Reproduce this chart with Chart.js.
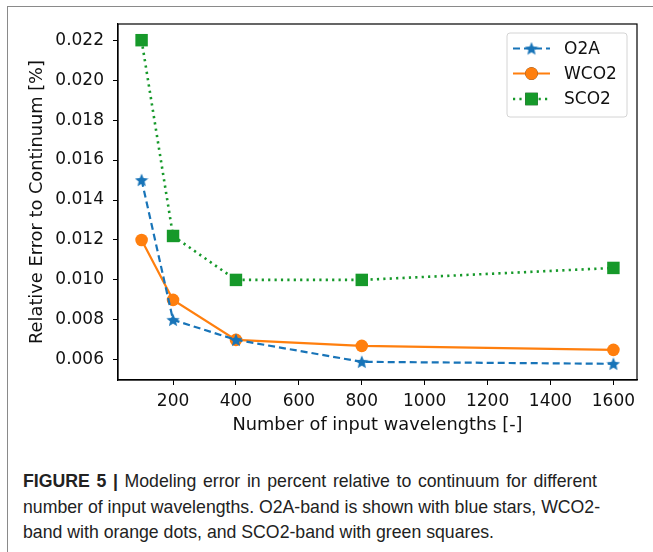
<!DOCTYPE html>
<html>
<head>
<meta charset="utf-8">
<script src="https://cdn.jsdelivr.net/npm/chart.js@4.4.1/dist/chart.umd.min.js"></script>
<style>
  html, body { margin: 0; padding: 0; background: #fff; }
  body { width: 653px; height: 552px; position: relative; overflow: hidden; }
  #frame { position: absolute; left: 7px; top: 6px; width: 700px; height: 600px;
           border-top: 1.5px solid #8a8a8a; border-left: 1.5px solid #8a8a8a; }
  #chart { position: absolute; left: 0; top: 0; }
  #caption { position: absolute; left: 23px; top: 469px; width: 574px;
             font-family: 'Liberation Sans Narrow', 'Liberation Sans', sans-serif;
             font-size: 17.7px; line-height: 25.5px; color: #222; }
  #caption div { white-space: nowrap; text-align: justify; text-align-last: justify; }
  #caption div.last { text-align: left; text-align-last: left; }
  #caption b { font-weight: bold; }
</style>
</head>
<body>
<div id="frame"></div>
<canvas id="chart" width="653" height="450"></canvas>
<div id="caption">
  <div><b>FIGURE 5 |</b> Modeling error in percent relative to continuum for different</div>
  <div>number of input wavelengths. O2A-band is shown with blue stars, WCO2-</div>
  <div class="last">band with orange dots, and SCO2-band with green squares.</div>
</div>
<script>
const wavelengths = [100, 200, 400, 800, 1600];
const o2a = [0.0150, 0.0080, 0.0070, 0.0059, 0.0058];
const wco2 = [0.0120, 0.0090, 0.0070, 0.0067, 0.0065];
const sco2 = [0.0220, 0.0122, 0.0100, 0.0100, 0.0106];
const seriesNames = ['O2A', 'WCO2', 'SCO2'];
const xTicks = [200, 400, 600, 800, 1000, 1200, 1400, 1600];
const yTicks = [0.006, 0.008, 0.010, 0.012, 0.014, 0.016, 0.018, 0.020, 0.022];

const BLUE = '#1874b8', ORANGE = '#ff7f0e', GREEN = '#16992a';
const FONT = "'DejaVu Sans', sans-serif";

// matplotlib-like 5% margins around the data
function padRange(vals) {
    const lo = Math.min(...vals), hi = Math.max(...vals);
    const m = (hi - lo) * 0.05;
    return [lo - m, hi + m];
}
const [xMin, xMax] = padRange(wavelengths);
const [yMin, yMax] = padRange(o2a.concat(wco2, sco2));

// filled five-pointed star like matplotlib '*'
function makeStar(size, color) {
    const c = document.createElement('canvas');
    c.width = size; c.height = size;
    const g = c.getContext('2d');
    const cx = size / 2, cy = size / 2 + 0.6, R = size / 2, r = R * 0.45;
    g.beginPath();
    for (let i = 0; i < 10; i++) {
        const rad = i % 2 === 0 ? R : r;
        const a = -Math.PI / 2 + i * Math.PI / 5;
        g.lineTo(cx + rad * Math.cos(a), cy + rad * Math.sin(a));
    }
    g.closePath();
    g.fillStyle = color;
    g.fill();
    return c;
}
const starImg = makeStar(14, BLUE);

const toPts = arr => wavelengths.map((x, i) => ({ x: x, y: arr[i] }));

// axes box on all four sides
const frameBox = {
    id: 'frameBox',
    afterDatasetsDraw(chart) {
        const { ctx, chartArea: a } = chart;
        ctx.save();
        ctx.strokeStyle = '#000';
        ctx.lineWidth = 1.2;
        ctx.strokeRect(a.left, a.top, a.right - a.left, a.bottom - a.top);
        ctx.restore();
    }
};

// legend inside the plot, upper right, line + marker samples
const insetLegend = {
    id: 'insetLegend',
    afterDraw(chart) {
        const { ctx, chartArea: a } = chart;
        const w = 120, h = 84;
        const x = a.right - 10 - w, y = a.top + 9;
        ctx.save();
        ctx.beginPath();
        ctx.roundRect(x, y, w, h, 3);
        ctx.fillStyle = 'rgba(255,255,255,0.85)';
        ctx.fill();
        ctx.strokeStyle = '#d4d4d4';
        ctx.lineWidth = 1;
        ctx.stroke();
        const rows = [15.5, 40.5, 66];
        chart.data.datasets.forEach((ds, i) => {
            const ry = y + rows[i];
            ctx.beginPath();
            ctx.setLineDash(ds.borderDash || []);
            ctx.strokeStyle = ds.borderColor;
            ctx.lineWidth = ds.borderWidth;
            ctx.moveTo(x + 6, ry);
            ctx.lineTo(x + 43, ry);
            ctx.stroke();
            ctx.setLineDash([]);
            Chart.helpers.drawPoint(ctx, {
                pointStyle: ds.pointStyle,
                radius: ds.pointRadius,
                rotation: 0,
                borderWidth: 0
            }, x + 24.5, ry);
            ctx.fillStyle = ds.pointBackgroundColor;
            ctx.fill();
            ctx.fillStyle = '#111';
            ctx.font = '17px ' + FONT;
            ctx.textBaseline = 'middle';
            ctx.textAlign = 'left';
            ctx.fillText(ds.label, x + 57, ry + 1);
        });
        ctx.restore();
    }
};

new Chart(document.getElementById('chart'), {
    type: 'scatter',
    data: {
        datasets: [{
            label: seriesNames[0],
            data: toPts(o2a),
            showLine: true,
            borderColor: BLUE,
            backgroundColor: BLUE,
            borderWidth: 2.2,
            borderDash: [7, 4],
            pointStyle: starImg,
            pointRadius: 7,
            pointBackgroundColor: BLUE
        }, {
            label: seriesNames[1],
            data: toPts(wco2),
            showLine: true,
            borderColor: ORANGE,
            backgroundColor: ORANGE,
            borderWidth: 2.2,
            pointStyle: 'circle',
            pointRadius: 6.3,
            pointBorderWidth: 0,
            pointBackgroundColor: ORANGE
        }, {
            label: seriesNames[2],
            data: toPts(sco2),
            showLine: true,
            borderColor: GREEN,
            backgroundColor: GREEN,
            borderWidth: 2.6,
            borderDash: [2.2, 4.2],
            pointStyle: 'rect',
            pointRadius: 8.8,
            pointBorderWidth: 0,
            pointBackgroundColor: GREEN
        }]
    },
    options: {
        responsive: false,
        animation: false,
        layout: { padding: { left: 0, top: 24, right: 16, bottom: 0 } },
        plugins: { legend: { display: false }, tooltip: { enabled: false } },
        scales: {
            x: {
                type: 'linear',
                min: xMin,
                max: xMax,
                afterFit: s => { s.height = 450 - 380; },
                afterBuildTicks: s => { s.ticks = xTicks.map(v => ({ value: v })); },
                grid: { drawOnChartArea: false, drawTicks: true, tickLength: 5, color: '#000', lineWidth: 1 },
                border: { display: true, color: '#000', width: 1.2 },
                ticks: { color: '#111', padding: 6, maxRotation: 0, font: { family: FONT, size: 17 },
                         callback: v => String(v) },
                title: { display: true, text: 'Number of input wavelengths [-]', color: '#111',
                         font: { family: FONT, size: 17.8 }, padding: { top: 0, bottom: 14 } }
            },
            y: {
                type: 'linear',
                min: yMin,
                max: yMax,
                afterFit: s => { s.width = 118; },
                afterBuildTicks: s => { s.ticks = yTicks.map(v => ({ value: v })); },
                grid: { drawOnChartArea: false, drawTicks: true, tickLength: 5, color: '#000', lineWidth: 1 },
                border: { display: true, color: '#000', width: 1.2 },
                ticks: { color: '#111', padding: 9, font: { family: FONT, size: 17 },
                         callback: v => v.toFixed(3) },
                title: { display: true, text: 'Relative Error to Continuum [%]', color: '#111',
                         font: { family: FONT, size: 17.8 }, padding: { top: 27, bottom: 0 } }
            }
        }
    },
    plugins: [frameBox, insetLegend]
});
</script>
</body>
</html>
